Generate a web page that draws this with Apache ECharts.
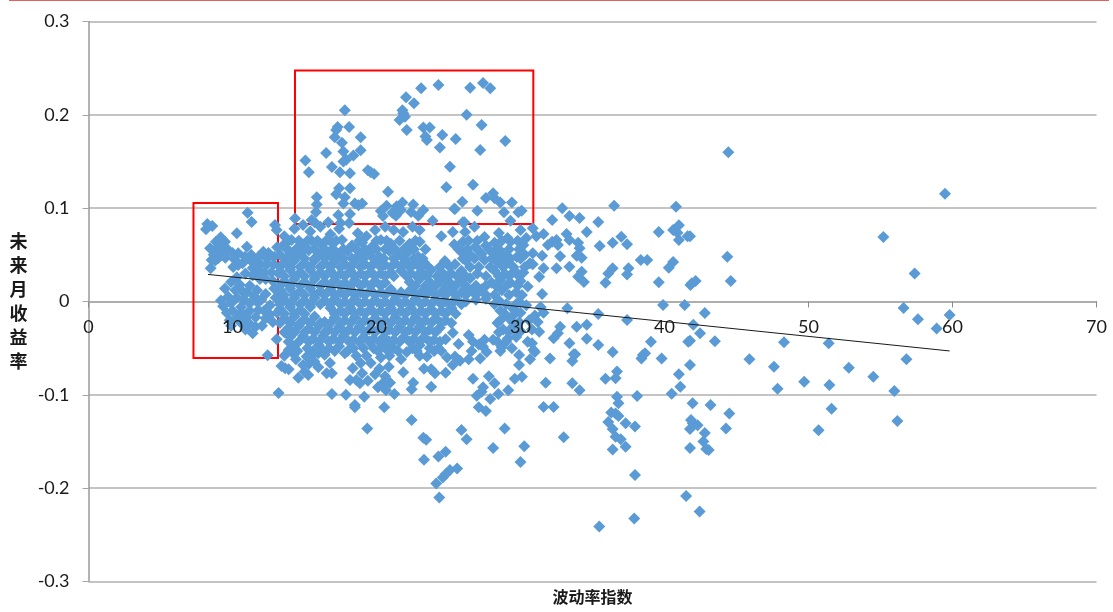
<!DOCTYPE html>
<html><head><meta charset="utf-8">
<style>html,body{margin:0;padding:0;background:#fff}#c{width:1113px;height:612px}</style>
<script src="https://cdn.jsdelivr.net/npm/echarts@6/dist/echarts.min.js"></script>
</head><body><div id="c"></div>
<script>
const xTicks = [0,70];
const yRange = [-0.3,0.3];
const xAxisTitle = '波动率指数';
const yAxisTitle = '未来月收益率';
const trendLine = [[8.3,0.029],[59.8,-0.053]];
const boxLeft = [[7.29,0.1056],[13.16,-0.0606]];
const boxTop = [[14.34,0.2474],[30.89,0.0831]];

const rightSide = [[44.43,0.16],[59.48,0.1155],[55.2,0.069],[44.36,0.048],[44.6,0.022],[57.37,0.03],[42.16,0.022],[41.9,0.0195],[56.6,-0.007],[57.6,-0.019],[59.8,-0.0145],[58.9,-0.029],[42.8,-0.0123],[42,-0.025],[42.47,-0.034],[43.5,-0.0427],[48.3,-0.0437],[51.4,-0.0448],[45.9,-0.062],[47.6,-0.07],[56.8,-0.062],[52.8,-0.071],[54.5,-0.0806],[49.7,-0.086],[51.45,-0.0895],[47.85,-0.0934],[55.96,-0.096],[51.6,-0.115],[56.17,-0.128],[50.7,-0.138],[44.5,-0.12],[43.2,-0.111],[41.95,-0.109],[44.27,-0.136],[41.84,-0.127],[42.3,-0.1327],[41.96,-0.1305],[41.77,-0.1367],[42.8,-0.141],[42.7,-0.15],[42.9,-0.158],[43.07,-0.159],[41.77,-0.157],[41.77,-0.068],[41.77,-0.042],[41.77,0.07]];

const midRight = [[32.05,-0.061],[33.8,-0.0566],[33.6,-0.0638],[36.4,-0.054],[38.65,-0.0555],[38.4,-0.061],[39.8,-0.061],[41,-0.078],[36.7,-0.075],[36.6,-0.0823],[35.9,-0.0827],[31.75,-0.087],[33.6,-0.0877],[34.1,-0.095],[41.1,-0.0913],[40.5,-0.0988],[36.7,-0.102],[38.1,-0.1013],[36.8,-0.109],[31.6,-0.113],[32.3,-0.113],[36.3,-0.119],[36.6,-0.12],[36.8,-0.1227],[36.1,-0.129],[37.3,-0.1305],[37.95,-0.1338],[36.4,-0.1367],[36.6,-0.145],[36.96,-0.1477],[37.3,-0.1556],[36.4,-0.1585],[33,-0.1455],[37.95,-0.186],[35.47,-0.241],[37.9,-0.2325],[41.5,-0.2085],[42.44,-0.2249],
[32.9,0.1],[36.5,0.1027],[40.8,0.1016],[33.4,0.0916],[34.1,0.0895],[32.2,0.0874],[35.4,0.0852],[34.6,0.0745],[33.2,0.0723],[31.6,0.0723],[31.1,0.07],[30.85,0.0784],[39.6,0.0745],[40.6,0.0766],[41,0.0817],[40.9,0.0737],[41.6,0.07],[41,0.066],[37,0.0695],[36.4,0.063],[37.4,0.0613],[35.5,0.0595],[33.4,0.066],[34,0.063],[32.5,0.066],[31.9,0.0605],[32.6,0.0605],[32.2,0.064],[34.1,0.057],[33.9,0.049],[34.25,0.047],[32.75,0.0484],[31.5,0.049],[30.85,0.0517],[30.85,0.04],[31.6,0.0356],[32.5,0.0356],[33.4,0.0373],[34.25,0.032],[34,0.0266],[34.4,0.021],[31.3,0.0266],[36.4,0.0356],[36.1,0.03],[35.9,0.02],[37.5,0.0356],[37.4,0.029],[38.35,0.0445],[38.8,0.0445],[40.6,0.0423],[40.3,0.0362],[39.6,0.0206],[41.8,0.0177],[31.5,0.008],[39.9,-0.0037],[41.4,-0.0037],[33.25,-0.0073],[35.4,-0.0134],[37.4,-0.0198],[41.65,-0.043],[39.06,-0.043],[38.5,-0.0573],[35.4,-0.0466],[34.6,-0.04],[33.4,-0.0448],[33.7,-0.0566],[33.9,-0.027],[34.6,-0.025],[32.75,-0.027],[32.6,-0.034],[32.3,-0.0394],[31.3,-0.0324],[31,-0.054],[30.8,-0.0448],[31,-0.015],[31.6,-0.012],[30.6,-0.02],[31.2,-0.022],[30.8,-0.03],[31.4,-0.006]];

const lowerMid = [[20.54,-0.1134],[22.44,-0.127],[23.25,-0.146],[23.45,-0.148],[23.3,-0.1695],[24.3,-0.166],[24.8,-0.161],[25.9,-0.1377],[26.26,-0.1477],[25.6,-0.179],[25.1,-0.1806],[24.8,-0.185],[24.6,-0.1885],[24.15,-0.195],[24.36,-0.21],[28.1,-0.157],[28.9,-0.136],[30.26,-0.155],[30,-0.172],[26.7,-0.0827],[27.8,-0.08],[28.2,-0.0877],[27.4,-0.092],[27.3,-0.0966],[26.96,-0.101],[28.46,-0.099],[29.15,-0.095],[27.9,-0.1045],[27.1,-0.1134],[27.6,-0.1174],[29.6,-0.0827],[30.1,-0.0806],[29.9,-0.068],[29.9,-0.0573],[30.66,-0.062],[29.4,-0.05],[30.5,-0.043],[30.9,-0.052],[27.4,-0.0484],[27.5,-0.041],[28.1,-0.041],[27.1,-0.046],[27.65,-0.054],[27.2,-0.061],[26.4,-0.062],[25.45,-0.059],[24.9,-0.06],[25.8,-0.0635],[25.3,-0.068],[25.7,-0.0455],[24.8,-0.0405],[25.3,-0.0334],[24.8,-0.0763],[24.06,-0.077],[23.8,-0.0727],[23.3,-0.072],[23.8,-0.0913],[22.55,-0.087],[22.44,-0.094],[21.86,-0.0759],[21.24,-0.099],[20.94,-0.087],[20.66,-0.095],[20.1,-0.092],[20.6,-0.08],[20.85,-0.07],[20.2,-0.072],[19.6,-0.066],[20.4,-0.088],[22.1,-0.054],[21.7,-0.062],[23.5,-0.059],[23.7,-0.05],
[13.2,-0.098],[12.44,-0.0577],[13.07,-0.0405],[13.65,-0.0716],[13.4,-0.069],[13.9,-0.0727],[14.57,-0.0817],[15.26,-0.0788],[15,-0.0752],[15.96,-0.0705],[16.54,-0.077],[16.9,-0.077],[16.77,-0.066],[16.9,-0.099],[17.88,-0.0999],[19.15,-0.102],[18.5,-0.111],[18.5,-0.1134],[19.36,-0.136],[17.8,-0.0555],[18.35,-0.0716],[18.16,-0.084],[18.6,-0.084],[19,-0.077],[18.85,-0.0877],[13.9,-0.052],[14.2,-0.0555],[13.6,-0.058],[14.4,-0.062],[15.15,-0.059],[15.5,-0.0573],[15.96,-0.0555],[15.7,-0.0645],[14.9,-0.068],[15.3,-0.067],[19.3,-0.058],[19.8,-0.05],[19.4,-0.085],[19.9,-0.078],[18.9,-0.066],[20.3,-0.06],[19.1,-0.05]];

const topBox = [[17.8,0.205],[17.3,0.187],[17.2,0.1838],[18.1,0.187],[18.9,0.176],[17.1,0.176],[17.6,0.17],[17.7,0.1606],[18.9,0.162],[16.5,0.159],[18.4,0.1565],[17.7,0.15],[17.9,0.152],[15.06,0.151],[15.3,0.1385],[16.9,0.144],[17.46,0.1385],[18.16,0.1374],[19.4,0.1406],[19.6,0.1385],[19.83,0.1367],[17.4,0.1213],[18.16,0.1213],[17.2,0.115],[20.8,0.1177],[17.8,0.1117],[15.85,0.1117],[15.85,0.104],[17.7,0.105],[18.5,0.105],[18.75,0.103],[19,0.105],[15.8,0.096],[14.34,0.089],[15.5,0.0874],[15.7,0.085],[17.35,0.0927],[18.16,0.0938],[16.65,0.085],[17.5,0.084],[20.7,0.1027],[20.3,0.097],[20.45,0.0916],[21.4,0.102],[21.8,0.106],[22.55,0.104],[21.1,0.095],[21.35,0.092],[21.7,0.098],[22.4,0.096],[23.25,0.098],[22.9,0.092],[23.9,0.0866],[22.05,0.2188],[23.1,0.2285],[24.3,0.232],[26.5,0.229],[27.4,0.234],[27.9,0.2285],[22.6,0.2124],[21.8,0.205],[21.86,0.2017],[21.98,0.198],[21.6,0.1945],[22.1,0.1838],[23.25,0.1863],[23.7,0.1863],[26.26,0.2],[27.3,0.189],[24.57,0.1785],[25.5,0.174],[23.4,0.1767],[23.5,0.173],[24.4,0.165],[27.2,0.1624],[28.94,0.172],[25.1,0.1445],[26.7,0.125],[24.85,0.1224],[28.1,0.116],[27.6,0.111],[28.2,0.1106],[28.6,0.106],[29.4,0.106],[25.96,0.107],[25.4,0.0995],[27,0.0973],[28.85,0.0956],[30.08,0.0973],[29.85,0.0956],[29.3,0.0866],[26,0.085],[25.45,0.099],[26.1,0.085]];

const leftBox = [[11.05,0.095],[11.33,0.0852],[8.25,0.083],[8.6,0.081],[8.16,0.0774],[10.3,0.073],[12.95,0.082],[13.07,0.0766],[9.18,0.0688],[8.85,0.064],[9.48,0.064],[8.44,0.057],[9.13,0.0587],[9.7,0.0552],[8.78,0.0534],[9.25,0.0498],[8.55,0.0445],[9,0.0463],[8.48,0.0356],[11,0.0587],[10.4,0.0517],[10.87,0.048],[10.15,0.045],[10.7,0.041],[10.4,0.039],[10.05,0.037],[12.14,0.0534],[11.8,0.048],[12.5,0.052],[12.9,0.048],[11.5,0.042],[11.95,0.04],[12.4,0.04],[12.85,0.04],[11.8,0.033],[12.2,0.031],[12.7,0.031],[13.1,0.058],[13.2,0.03],[9.48,0.014],[9.35,-0.005],[9.7,0.005],[10.2,0.012],[10.75,0.01],[11.2,0.017],[11.7,0.012],[10,-0.01],[10.6,-0.006],[11.2,-0.002],[11.75,-0.001],[10.35,-0.017],[10.95,-0.017],[11.6,-0.017],[11.6,-0.027],[12.05,-0.026],[9.8,-0.02],[12.8,-0.022],[9.2,0.001],[12.3,0.008],[13,0.004],[13.1,-0.012],[12.2,-0.01],[12.9,0.014],
[8.9,0.057],[9.4,0.058],[9,0.052],[8.8,0.044],[8.7,0.05],[9.5,0.047],[10,0.052],[11.3,0.05],[11.2,0.045],[12.4,0.046],[11.4,0.036],[12.3,0.024],[12.8,0.022],[11.9,0.024],[11.4,0.028],[10.9,0.03],[10.3,0.026],[9.9,0.021],[10.5,0.018],[11,0.01],[10.3,0.004],[9.9,-0.002],[10.8,0.002],[11.5,0.006],[12,0.002],[12.6,-0.004],[12.6,-0.014],[10.6,-0.012],[11.2,-0.01],[9.6,-0.012],[9.9,-0.026],[10.6,-0.023],[11.2,-0.024],[10.9,-0.03],[11.4,-0.034],[12.3,-0.018],[11.8,-0.009]];

const coreA = [[13.6,0.07],[14.3,0.078],[14.9,0.082],[15.4,0.075],[16.1,0.08],[16.8,0.072],[17.4,0.078],[18.1,0.084],[18.7,0.073],[19.3,0.07],[19.9,0.0766],[20.6,0.08],[21.2,0.0766],[21.85,0.0745],[22.5,0.08],[23,0.0766],[24.5,0.07],[25.3,0.0745],[26.15,0.0745],[26.8,0.08],[27.5,0.069],[28.5,0.0734],[29.1,0.068],[30,0.0766],[30.4,0.068],[13.5,0.06],[14.1,0.066],[14.8,0.062],[15.5,0.065],[16.2,0.061],[16.9,0.063],[17.6,0.066],[18.3,0.06],[19,0.063],[19.7,0.059],[20.3,0.066],[21,0.062],[21.6,0.065],[22.3,0.062],[23,0.064],[23.4,0.056],[25.4,0.061],[26,0.064],[26.85,0.0584],[27.6,0.06],[28.2,0.063],[29.3,0.064],[30.2,0.0605],[13.3,0.05],[14,0.053],[14.7,0.052],[15.3,0.055],[16,0.05],[16.7,0.053],[17.4,0.05],[18,0.054],[18.8,0.05],[19.5,0.052],[20.2,0.048],[20.9,0.054],[21.5,0.05],[22.2,0.053],[22.9,0.048],[25.9,0.053],[26.5,0.05],[27.3,0.051],[28.1,0.052],[28.8,0.05],[29.75,0.0477],[30.3,0.05],[13.6,0.042],[14.3,0.044],[15,0.041],[15.7,0.044],[16.4,0.041],[17.1,0.043],[17.8,0.04],[18.5,0.043],[19.2,0.04],[19.9,0.042],[20.6,0.039],[21.3,0.041],[22,0.043],[22.6,0.04],[23.3,0.042],[24.75,0.0434],[25.45,0.04],[26.2,0.044],[27.5,0.0445],[28.4,0.042],[29.1,0.043],[30.65,0.041],[13.3,0.032],[14,0.034],[14.7,0.031],[15.4,0.034],[16.1,0.031],[16.8,0.033],[17.5,0.03],[18.2,0.033],[18.9,0.03],[19.6,0.032],[20.3,0.03],[21,0.031],[21.7,0.033],[22.4,0.03],[23.1,0.032],[23.8,0.034],[24.5,0.032],[25.2,0.03],[25.9,0.033],[26.5,0.037],[27,0.03],[28.2,0.033],[28.9,0.03],[29.6,0.033],[30.2,0.031],[13.6,0.022],[14.3,0.024],[15,0.021],[15.7,0.024],[16.4,0.021],[17.1,0.023],[17.8,0.02],[18.5,0.023],[19.2,0.02],[19.9,0.022],[20.6,0.02],[22.3,0.021],[23,0.024],[23.7,0.021],[24.4,0.023],[25.1,0.02],[25.8,0.022],[26.5,0.025],[28,0.02],[28.6,0.023],[29.3,0.02],[30,0.022],[30.5,0.016],[13.3,0.012],[14,0.014],[14.7,0.011],[15.4,0.014],[16.1,0.011],[16.8,0.013],[17.5,0.01],[18.2,0.013],[18.9,0.01],[19.6,0.012],[20.3,0.01],[21,0.013],[21.7,0.01],[22.4,0.013],[23.1,0.01],[23.8,0.012],[24.5,0.01],[25.2,0.013],[25.9,0.01],[26.6,0.012],[27.3,0.013],[28.7,0.012],[29.7,0.01],[13.6,0.002],[14.3,0.004],[15,0.001],[15.7,0.004],[16.4,0.001],[17.1,0.003],[17.8,0],[18.5,0.003],[19.2,0],[19.9,0.002],[20.6,0],[21.3,0.003],[22,0],[22.7,0.003],[23.4,0],[24.1,0.002],[24.8,0],[25.5,0.003],[26.2,0],[26.9,0.002],[27.6,0.003],[28.5,0.001],[29.9,0],[30.4,-0.004]];

const coreB = [[13.3,-0.008],[14,-0.006],[14.7,-0.009],[15.4,-0.006],[16.8,-0.007],[17.5,-0.01],[18.2,-0.007],[18.9,-0.01],[19.6,-0.008],[20.3,-0.01],[21,-0.007],[21.7,-0.01],[22.4,-0.007],[23.1,-0.01],[23.8,-0.008],[24.5,-0.01],[25.2,-0.007],[28.6,-0.01],[29.5,-0.008],[30,-0.012],[13.6,-0.018],[14.3,-0.016],[15,-0.019],[15.7,-0.016],[16.4,-0.022],[17.1,-0.017],[17.8,-0.02],[18.5,-0.017],[19.2,-0.02],[19.9,-0.018],[20.6,-0.02],[21.3,-0.017],[22,-0.02],[22.7,-0.017],[23.4,-0.02],[24.1,-0.018],[24.8,-0.02],[28.6,-0.02],[29.2,-0.018],[29.9,-0.022],[13.9,-0.028],[14.6,-0.026],[15.3,-0.029],[16,-0.026],[16.7,-0.03],[17.4,-0.027],[18.1,-0.03],[18.8,-0.027],[19.5,-0.03],[20.2,-0.028],[20.9,-0.03],[21.6,-0.027],[22.3,-0.03],[23,-0.027],[23.7,-0.03],[24.4,-0.028],[28.8,-0.03],[29.4,-0.028],[30,-0.032],[14,-0.038],[14.9,-0.037],[15.6,-0.04],[16.3,-0.037],[17,-0.04],[17.7,-0.037],[18.4,-0.041],[19.1,-0.038],[19.8,-0.04],[20.5,-0.038],[21.2,-0.041],[21.9,-0.038],[22.6,-0.04],[23.3,-0.038],[24,-0.041],[26.4,-0.036],[29.1,-0.04],[29.7,-0.038],[14.2,-0.048],[15.2,-0.05],[16,-0.047],[16.7,-0.05],[17.4,-0.048],[18.4,-0.05],[20.5,-0.048],[21.2,-0.05],[22.5,-0.05],[23,-0.047],[24.3,-0.05],[28.7,-0.049],[16.4,-0.057],[18.6,-0.058],[20.9,-0.058],[23,-0.058]];

const fillRows = [
 [0.065,[13.9,14.6,15.2,15.9,16.5,17.2,18.8,20,20.7,22.7,26.4,27,28.7,29.8]],
 [0.056,[13.8,14.4,15,15.7,16.4,17,17.7,18.6,19.2,20,20.6,21.3,21.9,22.6,25.7,26.3,27,27.8,28.5,29.2,29.9]],
 [0.046,[13.7,14.3,15,15.7,16.4,17,17.7,18.3,19.1,19.8,20.5,21.2,21.9,22.6,23.2,26,26.8,28,28.5,29.3,30]],
 [0.037,[13.3,14,14.7,15.4,16.1,16.8,17.5,18.2,18.9,19.6,20.3,21,21.7,22.3,23,23.6,24.4,25.1,27.1,27.9,28.8,29.5,30.3]],
 [0.027,[13.6,14.3,15,15.7,16.4,17.1,17.8,18.5,19.2,19.9,20.6,21.2,22.1,22.8,23.5,24.2,24.9,25.6,26.2,27.6,28.5,29.2,29.9]],
 [0.017,[13.3,14,14.7,15.4,16.1,16.8,17.5,18.2,18.9,19.6,20.3,22.7,23.4,24.1,24.8,25.5,26.2,26.9,27.6,28.3,29,29.8]],
 [0.007,[13.6,14.3,15,15.7,16.4,17.1,17.8,18.5,19.2,19.9,20.6,21.3,22,22.7,23.4,24.1,24.8,25.5,26.2,26.9,27.6,28.2,29.2,30.1]],
 [-0.003,[13.3,14,14.7,15.4,16.1,16.8,17.5,18.2,18.9,19.6,20.3,21,21.7,22.4,23.1,23.8,24.5,25.2,25.9,28.2,29,29.7]],
 [-0.013,[13.6,14.3,15,17.1,17.8,18.5,19.2,19.9,20.6,21.3,22,22.7,23.4,24.1,24.8,25.5,28.9,29.6]],
 [-0.023,[13.3,14,14.7,15.4,16.1,16.8,17.5,18.2,18.9,19.6,20.3,21,21.7,22.4,23.1,23.8,24.5,25.2,28.4,29.5]],
 [-0.033,[13.6,14.3,15,15.7,16.4,17.1,17.8,18.5,19.2,19.9,20.6,21.3,22,22.7,23.4,24.1,28.5,29.2]],
 [-0.043,[13.9,14.6,15.3,16,16.7,17.4,18.1,18.8,19.5,20.2,20.9,21.6,22.3,23,23.7,24.4,26.7,28.4,29]],
 [-0.053,[14.5,15.6,16.3,17.1,18,20.1,20.8,21.5,22.8,24,24.5,26.6,28.6]]
];
const filled = fillRows.flatMap(r => r[1].map(x => [x, r[0]]));

const allPoints = [...rightSide,...midRight,...lowerMid,...topBox,...leftBox,...coreA,...coreB,...filled];

const labelFont = 'Lato, "Open Sans", sans-serif';
const cjkFont = '"Noto Sans CJK SC", sans-serif';
const lineColor = '#b0b0b0';

const chart = echarts.init(document.getElementById('c'), null, {renderer:'canvas'});
function boxArea(b){return [{coord:b[0]},{coord:b[1]}];}
const axisOffset = -280;
chart.setOption({
  animation:false,
  backgroundColor:'#fff',
  grid:{left:88.5,right:16.5,top:21.5,bottom:30.5,containLabel:false,outerBoundsMode:'none'},
  graphic:[{type:'rect',left:9,top:0,shape:{width:1100,height:1},style:{fill:'#e4605f'},silent:true}],
  xAxis:[{type:'value',min:xTicks[0],max:xTicks[1],interval:10,position:'bottom',offset:axisOffset,z:10,
    name:xAxisTitle,nameLocation:'middle',nameGap:287,
    nameTextStyle:{fontFamily:cjkFont,fontSize:16,fontWeight:'bold',color:'#1a1a1a'},
    axisLine:{show:false,onZero:false},axisTick:{show:false},
    axisLabel:{margin:17,fontFamily:labelFont,fontSize:18,color:'#1a1a1a',showMinLabel:true,showMaxLabel:true},
    splitLine:{show:false}},
   {type:'value',min:xTicks[0],max:xTicks[1],interval:10,position:'bottom',offset:axisOffset,z:0,
    axisLine:{show:true,onZero:false,lineStyle:{color:'#a6a6a6',width:1.5}},
    axisTick:{show:true,length:6,lineStyle:{color:'#8c8c8c',width:1}},
    axisLabel:{show:false},splitLine:{show:false}}],
  yAxis:{type:'value',min:yRange[0],max:yRange[1],interval:0.1,
    name:yAxisTitle.split('').join('\n'),nameLocation:'middle',nameGap:61,nameRotate:0,
    nameTextStyle:{fontFamily:cjkFont,fontSize:18,fontWeight:'bold',color:'#1a1a1a',lineHeight:24},
    axisLine:{show:true,onZero:false,lineStyle:{color:'#9a9a9a',width:1.5}},
    axisTick:{show:true,length:6,lineStyle:{color:'#a6a6a6',width:1}},
    axisLabel:{margin:19,fontFamily:labelFont,fontSize:18,color:'#1a1a1a',formatter:v=>String(+v.toFixed(1))},
    splitLine:{show:true,lineStyle:{color:lineColor,width:1.5}}},
  series:[
    {type:'scatter',symbol:'diamond',symbolSize:12,data:allPoints,itemStyle:{color:'#5b9bd5',opacity:1},z:2,large:false},
    {type:'line',data:trendLine,symbol:'none',lineStyle:{color:'#1a1a1a',width:1},z:3,silent:true},
    {type:'scatter',data:[],z:4,markArea:{silent:true,itemStyle:{color:'rgba(0,0,0,0)',borderColor:'#ff0000',borderWidth:2},data:[boxArea(boxLeft),boxArea(boxTop)]}}
  ]
});
</script></body></html>
